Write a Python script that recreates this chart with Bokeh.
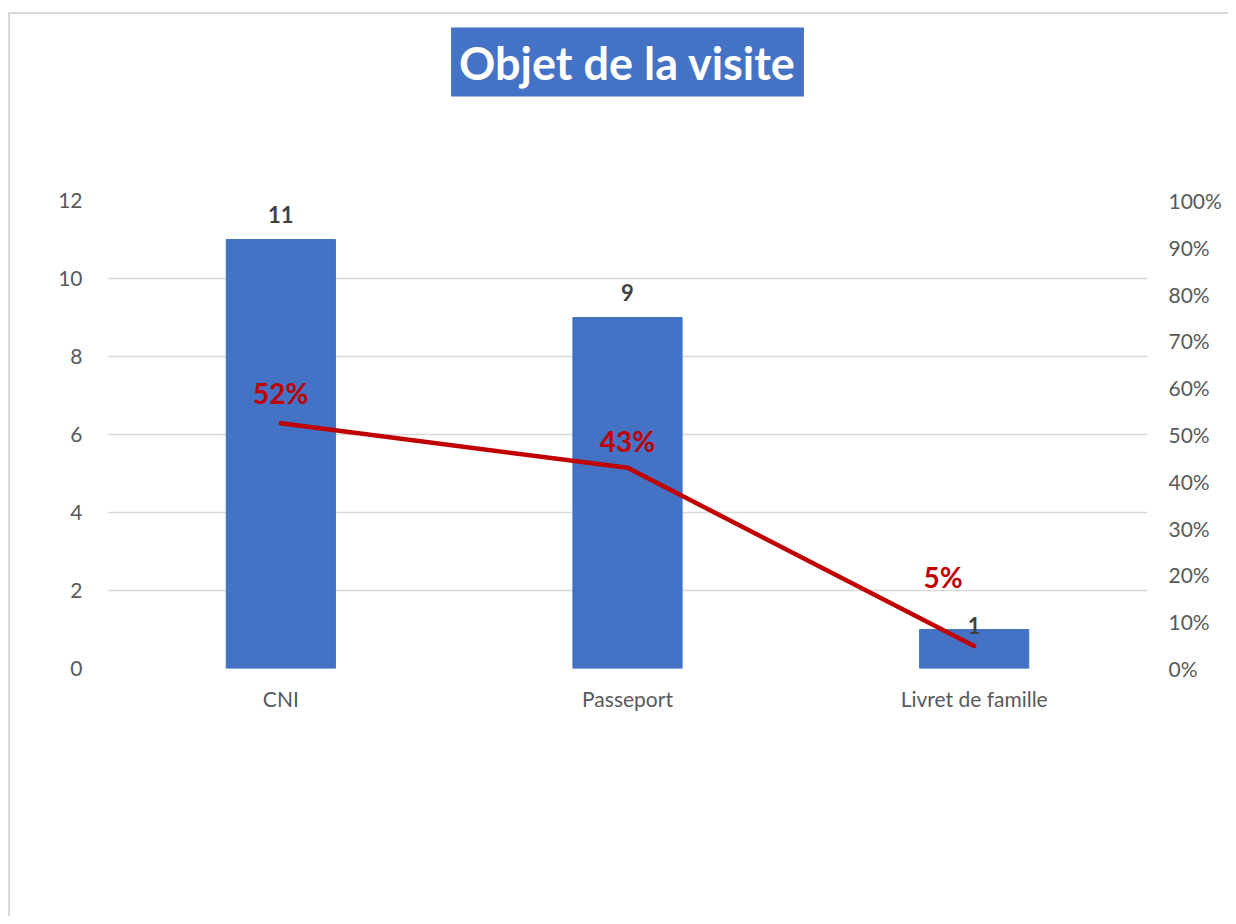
from bokeh.plotting import figure
from bokeh.models import (Range1d, LinearAxis, NumeralTickFormatter, ColumnDataSource,
                          FixedTicker, Title)
from bokeh.core.properties import value
from bokeh.embed import file_html
from bokeh.resources import INLINE

# ---- data ----
categories = ["CNI", "Passeport", "Livret de famille"]
counts = [11, 9, 1]
shares = [0.524, 0.429, 0.048]
left_ticks = [0, 2, 4, 6, 8, 10, 12]
right_ticks = [0, 0.1, 0.2, 0.3, 0.4, 0.5, 0.6, 0.7, 0.8, 0.9, 1.0]
title_text = "Objet de la visite"

# label placement (screen px), separate from data
count_dy = [-25, -25, -4]
pct_dx = [0, 0, -31]
pct_dy = [-30, -27, -69]

FONT = "Lato"
GREY = "#595959"

src = ColumnDataSource(dict(
    cat=categories, count=counts, share=shares,
    count_lbl=[str(c) for c in counts],
    pct_lbl=["%d%%" % round(s * 100) for s in shares],
    cdy=count_dy, pdx=pct_dx, pdy=pct_dy,
))

p = figure(x_range=categories, y_range=Range1d(0, 12),
           frame_width=1040, frame_height=468,
           min_border_left=97, min_border_right=81,
           min_border_top=186, min_border_bottom=248,
           output_backend="svg", toolbar_location=None,
           styles={"border-left": "2px solid #d9d9d9", "border-top": "2px solid #d9d9d9",
                   "margin-left": "8px", "margin-top": "12px"})
p.outline_line_color = None
p.extra_y_ranges = {"pct": Range1d(0, 1)}

p.vbar(x="cat", top="count", width=0.315, color="#4472C4", source=src)
p.line(x="cat", y="share", y_range_name="pct", line_color="#C00000",
       line_width=4.5, line_cap="round", source=src)

p.text(x="cat", y="count", text="count_lbl", y_offset="cdy", source=src,
       text_align="center", text_baseline="middle", text_font=value(FONT),
       text_font_style="bold", text_font_size="22px", text_color="#404040")
p.text(x="cat", y="share", text="pct_lbl", x_offset="pdx", y_offset="pdy",
       y_range_name="pct", source=src,
       text_align="center", text_baseline="middle", text_font=value(FONT),
       text_font_style="bold", text_font_size="28px", text_color="#C00000")

# axes
p.yaxis.ticker = FixedTicker(ticks=left_ticks)
p.ygrid.ticker = FixedTicker(ticks=left_ticks)
for ax in [p.yaxis[0], p.xaxis[0]]:
    ax.axis_line_color = None
    ax.major_tick_line_color = None
    ax.minor_tick_line_color = None
    ax.major_label_text_font = FONT
    ax.major_label_text_font_size = "21px"
    ax.major_label_text_color = GREY
p.yaxis.major_label_standoff = 19
p.xaxis.major_label_standoff = 11
p.xgrid.grid_line_color = None
p.ygrid.grid_line_color = "#d9d9d9"
p.ygrid.grid_line_width = 1.5

rax = LinearAxis(y_range_name="pct", ticker=FixedTicker(ticks=right_ticks),
                 formatter=NumeralTickFormatter(format="0%"))
rax.axis_line_color = None
rax.major_tick_line_color = None
rax.minor_tick_line_color = None
rax.major_label_text_font = FONT
rax.major_label_text_font_size = "21px"
rax.major_label_text_color = GREY
rax.major_label_standoff = 15
p.add_layout(rax, "right")

# blank spacer (white on white) between the title box and the plot frame
spacer = Title(text=" ", text_font_size="10px", standoff=91, text_color="#ffffff")
p.add_layout(spacer, "above")

title = Title(text=title_text, align="center", text_font=FONT, text_font_style="bold",
              text_font_size="45px", text_color="white",
              background_fill_color="#4472C4",
              padding=dict(left=8, right=8, top=8, bottom=7), standoff=0)
p.add_layout(title, "above")

open("out.html", "w").write(file_html(p, INLINE))
